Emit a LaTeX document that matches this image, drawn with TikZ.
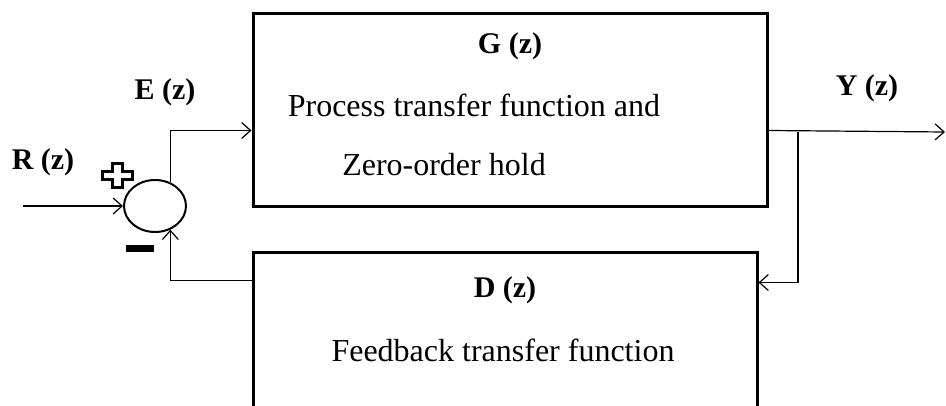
\documentclass[tikz,border=0pt]{standalone}
\usepackage{fontspec}
\setmainfont{Liberation Serif}
\usetikzlibrary{arrows.meta,shapes.geometric}
\begin{document}
\begin{tikzpicture}[x=1pt,y=-1pt,
  blk/.style={draw,line width=3pt,rectangle,inner sep=0pt},
  arr/.style={line width=1.2pt,-{Straight Barb[length=9pt,width=16pt,line width=1.2pt]}},
  txt/.style={font=\fontsize{32}{38}\selectfont,inner sep=0pt},
  lbl/.style={font=\fontsize{30}{36}\selectfont\bfseries,inner sep=0pt}]
\clip (0,0) rectangle (946,406);
\useasboundingbox (0,0) rectangle (946,406);
% blocks
\node[blk,minimum width=514pt,minimum height=193pt] (G) at (510,110.5) {};
\node[blk,minimum width=504pt,minimum height=200pt] (D) at (505,353) {};
\node[draw,ellipse,line width=2pt,minimum width=62pt,minimum height=52pt,inner sep=0pt] (sum) at (155,206) {};
% texts
\node[lbl] (gl) at (510,46) {G (z)};
\node[txt] (gt1) at (474,105) {Process transfer function and};
\node[txt] (gt2) at (444,165) {Zero-order hold};
\node[lbl] (dl) at (505,290) {D (z)};
\node[txt] (dt1) at (503,350) {Feedback transfer function};
\node[lbl] (rl) at (43,162) {R (z)};
\node[lbl] (el) at (165,92) {E (z)};
\node[lbl] (yl) at (867,88) {Y (z)};
% coordinates
\coordinate (rin) at (23,206);
\path (G.north west) ++(0,118) coordinate (Gin);
\path (G.north east) ++(0,118) coordinate (Gout);
\coordinate (yout) at (945,132);
\coordinate (br) at (798,132);
\path (D.north east) ++(0,31) coordinate (Din);
\path (D.north west) ++(0,29) coordinate (Dout);
% connectors
\draw[arr] (rin) -- (sum.west);
\draw[arr] (sum.57) |- (Gin);
\draw[arr] (Gout) -- (yout);
\draw[arr] (br) |- (Din);
\draw[arr] (Dout) -| (sum.-57);
% signs
\draw[line width=3pt,line join=miter] (117,176) +(-5,-12) -- +(5,-12) -- +(5,-4) -- +(15,-4) -- +(15,4) -- +(5,4) -- +(5,12) -- +(-5,12) -- +(-5,4) -- +(-15,4) -- +(-15,-4) -- +(-5,-4) -- cycle;
\fill (126,245) rectangle (154,252);
\end{tikzpicture}
\end{document}
